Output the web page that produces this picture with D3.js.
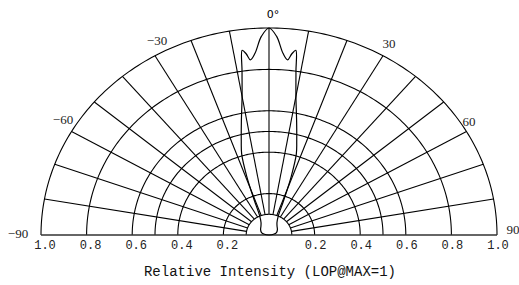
<!DOCTYPE html>
<html>
<head>
<meta charset="utf-8">
<script src="https://cdn.jsdelivr.net/npm/d3@7"></script>
<style>
  body { margin: 0; background: #fff; }
  svg { display: block; }
</style>
</head>
<body>
<div id="chart"></div>
<script>
// grid values
const ringValues  = [0.1, 0.2, 0.4, 0.5, 0.6, 0.8, 1.0];
const spokeAngles = [-80, -70, -60, -50, -40, -30, -20, -10, 0, 10, 20, 30, 40, 50, 60, 70, 80];
const angleLabels = [-90, -60, -30, 30, 60, 90];
const radiusTicks = [1.0, 0.8, 0.6, 0.4, 0.2];

// radiation pattern (angle in degrees, relative intensity)
const patternAngles = [-90, -80, -70, -55, -40, -30, -24, -21, -19, -17, -15, -12.5, -10, -8.5, -7.5, -6.5, -5.5, -4, -2, 0,
                       2, 4, 5.5, 6.5, 7.5, 8.5, 10, 12.5, 15, 17, 19, 21, 24, 30, 40, 55, 70, 80, 90];
const patternValues = [0, 0.02, 0.035, 0.045, 0.055, 0.07, 0.1, 0.18, 0.3, 0.41, 0.47, 0.56, 0.68, 0.8, 0.9, 0.88, 0.85, 0.88, 0.96, 1.0,
                       0.96, 0.88, 0.85, 0.88, 0.9, 0.8, 0.68, 0.56, 0.47, 0.41, 0.3, 0.18, 0.1, 0.07, 0.055, 0.045, 0.035, 0.02, 0];

const width = 519, height = 285;

// the source picture is squashed vertically, so x and y get their own scales
const x = d3.scaleLinear().domain([-1, 1]).range([41, 497]);
const y = d3.scaleLinear().domain([0, 1]).range([235, 28]);

const rad = a => a * Math.PI / 180;
const px = (r, a) => x(r * Math.sin(rad(a)));
const py = (r, a) => y(r * Math.cos(rad(a)));

const svg = d3.select("#chart").append("svg")
  .attr("width", width)
  .attr("height", height);

// rings
const arcAngles = d3.range(-90, 90.5, 1);
const ringLine = r => d3.line()
  .x(a => px(r, a))
  .y(a => py(r, a))(arcAngles);

svg.append("g").selectAll("path")
  .data(ringValues)
  .enter().append("path")
  .attr("d", d => ringLine(d))
  .attr("fill", "none")
  .attr("stroke", "#000")
  .attr("stroke-width", 1.1);

// spokes, starting at the inner ring
svg.append("g").selectAll("line")
  .data(spokeAngles)
  .enter().append("line")
  .attr("x1", d => px(ringValues[0], d))
  .attr("y1", d => py(ringValues[0], d))
  .attr("x2", d => px(1, d))
  .attr("y2", d => py(1, d))
  .attr("stroke", "#000")
  .attr("stroke-width", 1.1);

// baseline
svg.append("line")
  .attr("x1", x(-1)).attr("x2", x(1))
  .attr("y1", y(0)).attr("y2", y(0))
  .attr("stroke", "#333")
  .attr("stroke-width", 1.5);

// pattern curve
const pattern = patternAngles.map((a, i) => [a, patternValues[i]]);
svg.append("path")
  .datum(pattern)
  .attr("d", d3.line()
    .x(d => px(d[1], d[0]))
    .y(d => py(d[1], d[0]))
    .curve(d3.curveCatmullRom))
  .attr("fill", "none")
  .attr("stroke", "#000")
  .attr("stroke-width", 1.2);

// radius tick labels on both sides of the baseline
const tickFont = "'Liberation Mono', monospace";
svg.append("g").selectAll("text")
  .data(radiusTicks.map(v => -v).concat(radiusTicks.slice().reverse()))
  .enter().append("text")
  .attr("x", d => x(d) + (d < 0 ? 4 : 1))
  .attr("y", y(0) + 14)
  .attr("text-anchor", "middle")
  .style("font-family", tickFont)
  .style("font-size", "12px")
  .style("fill", "#222")
  .text(d => Math.abs(d).toFixed(1));

// angle labels
const labelPos = {
  "-90": [18, 238], "-60": [63, 124], "-30": [157, 45],
  "30": [389, 48], "60": [469, 126], "90": [513, 234]
};
svg.append("g").selectAll("text")
  .data(angleLabels)
  .enter().append("text")
  .attr("x", d => labelPos[d][0])
  .attr("y", d => labelPos[d][1])
  .attr("text-anchor", "middle")
  .style("font-family", "'Liberation Serif', serif")
  .style("font-size", "13px")
  .style("fill", "#222")
  .text(d => d < 0 ? "\u2212" + Math.abs(d) : d);

svg.append("text")
  .attr("x", x(0) + 4)
  .attr("y", 18)
  .attr("text-anchor", "middle")
  .style("font-family", "'DejaVu Sans', sans-serif")
  .style("font-size", "11px")
  .text("0°");

// axis title
svg.append("text")
  .attr("x", 270)
  .attr("y", 276)
  .attr("text-anchor", "middle")
  .style("font-family", tickFont)
  .style("font-size", "14px")
  .style("fill", "#111")
  .text("Relative Intensity (LOP@MAX=1)");
</script>
</body>
</html>
